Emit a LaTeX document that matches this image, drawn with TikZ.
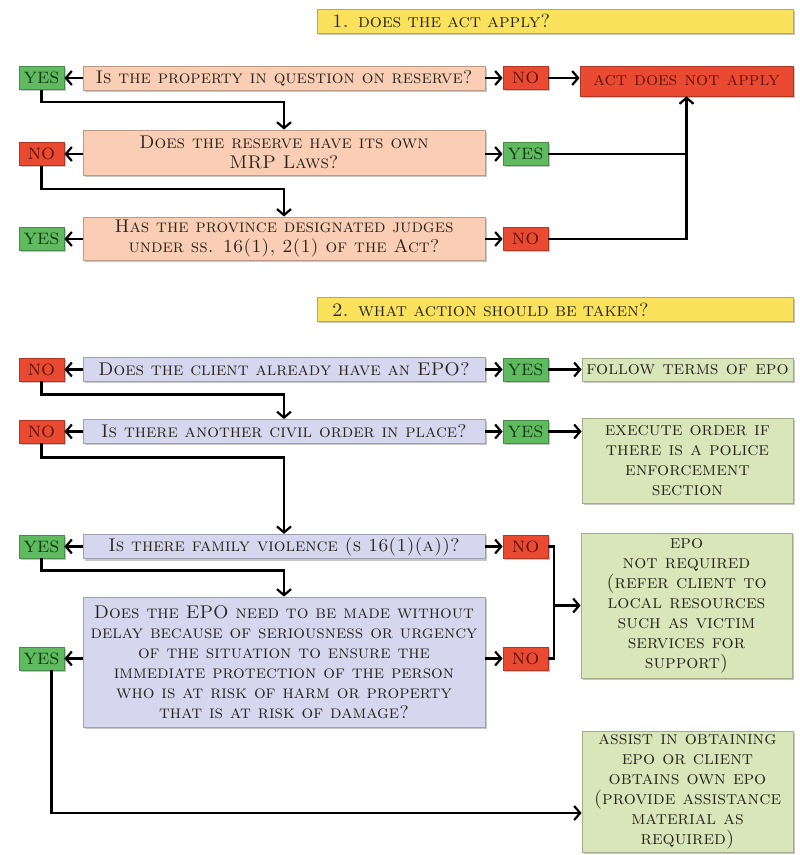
\documentclass[tikz,border=0pt]{standalone}
\usepackage{tikz}
\usetikzlibrary{arrows.meta, shadows}

\definecolor{peach}{RGB}{250,206,180}
\definecolor{lavender}{RGB}{214,214,238}
\definecolor{pale}{RGB}{216,230,186}
\definecolor{yesgreen}{RGB}{96,186,96}
\definecolor{nored}{RGB}{234,74,50}
\definecolor{headyellow}{RGB}{250,226,92}
\definecolor{ink}{RGB}{40,37,28}
\definecolor{yesink}{RGB}{20,60,20}
\definecolor{noink}{RGB}{95,20,10}

\begin{document}
\begin{tikzpicture}[x=0.5pt, y=-0.5pt, font=\fontsize{9.2}{10}\selectfont\scshape, text=ink,
    box/.style={draw=#1!75!black, fill=#1, line width=0.4pt, align=center, inner sep=1.5pt,
        drop shadow={shadow xshift=0.9pt, shadow yshift=-0.9pt, opacity=0.45}},
    head/.style={box=headyellow, text width=223pt, align=left, inner xsep=7.5pt, minimum height=12pt,
        font=\fontsize{9.5}{10}\selectfont\scshape},
    qpeach/.style={box=peach, minimum width=201pt},
    qlav/.style={box=lavender, minimum width=201pt},
    yesbox/.style={box=yesgreen, text=yesink, minimum width=22.5pt, minimum height=11.5pt,
        font=\fontsize{11}{11}\selectfont\scshape},
    nobox/.style={box=nored, text=noink, minimum width=22.5pt, minimum height=11.5pt,
        font=\fontsize{11}{11}\selectfont\scshape},
    endbox/.style={box=pale, minimum width=105.5pt, font=\fontsize{9.5}{10}\selectfont\scshape},
    arr/.style={-{Straight Barb[length=3pt, width=7pt]}, line width=1.1pt},
    ln/.style={line width=1.1pt}]
\useasboundingbox (0,0) rectangle (799,855);

% 1. does the act apply?
\node[head] (head1) at (555,21) {1. does the act apply?};
\node[qpeach, minimum height=12pt] (q1) at (284,78) {Is the property in question on reserve?};
\node[yesbox] (yes1) at (41.5,78) {yes};
\node[nobox] (no1) at (525.5,78) {no};
\node[box=nored, text=noink, minimum width=106.5pt, minimum height=15pt,
    font=\fontsize{9.5}{10}\selectfont\scshape] (act) at (686.5,81) {act does not apply};

\node[qpeach, minimum height=22.5pt] (q2) at (284,152.5) {Does the reserve have its own\\MRP Laws?};
\node[nobox] (no2) at (41.5,154) {no};
\node[yesbox] (yes2) at (525.5,154) {yes};

\node[qpeach, minimum height=21.5pt] (q3) at (284,238.5) {Has the province designated judges\\under ss. 16(1), 2(1) of the Act?};
\node[yesbox] (yes3) at (41.5,239) {yes};
\node[nobox] (no3) at (525.5,239) {no};

\draw[arr] (q1.west) -- (yes1.east);
\draw[arr] (q1.east) -- (no1.west);
\draw[arr] (no1.east) -- (no1.east -| act.west);
\draw[arr] (yes1.south) -- ++(0,12) -| (q2.north);
\draw[arr] (q2.west |- no2) -- (no2.east);
\draw[arr] (q2.east |- yes2) -- (yes2.west);
\draw[ln] (yes2.east) -- (yes2.east -| act.south);
\draw[arr] (no2.south) -- ++(0,23) -| (q3.north);
\draw[arr] (q3.west |- yes3) -- (yes3.east);
\draw[arr] (q3.east |- no3) -- (no3.west);
\draw[arr] (no3.east) -| (act.south);

% 2. what action should be taken?
\node[head] (head2) at (555,309.5) {2. what action should be taken?};
\node[qlav, minimum height=12pt] (q4) at (284,369.5) {Does the client already have an EPO?};
\node[nobox] (no4) at (41.5,369.5) {no};
\node[yesbox] (yes4) at (525.5,369.5) {yes};
\node[endbox, minimum height=11.5pt] (follow) at (687.5,369.5) {follow terms of epo};

\node[qlav, minimum height=12pt] (q5) at (284,431.5) {Is there another civil order in place?};
\node[nobox] (no5) at (41.5,431.5) {no};
\node[yesbox] (yes5) at (525.5,431.5) {yes};
\node[endbox, minimum height=42.5pt] (exec) at (687.5,460.5) {execute order if\\there is a police\\enforcement\\section};

\node[qlav, minimum height=12pt] (q6) at (284,546.5) {Is there family violence (s 16(1)(a))?};
\node[yesbox] (yes6) at (41.5,546.5) {yes};
\node[nobox] (no6) at (525.5,546.5) {no};
\node[endbox, minimum height=72.5pt] (epo) at (686.5,605.5) {epo\\not required\\(refer client to\\local resources\\such as victim\\services for\\support)};

\node[qlav, minimum height=65pt] (q7) at (284,662) {Does the EPO need to be made without\\delay because of seriousness or urgency\\of the situation to ensure the\\immediate protection of the person\\who is at risk of harm or property\\that is at risk of damage?};
\node[yesbox] (yes7) at (41.5,658.5) {yes};
\node[nobox] (no7) at (525.5,658.5) {no};
\node[endbox, minimum height=60pt] (assist) at (687.5,792) {assist in obtaining\\epo or client\\obtains own epo\\(provide assistance\\material as\\required)};
\coordinate (join) at (554,605.5);

\draw[arr] (q4.west) -- (no4.east);
\draw[arr] (q4.east) -- (yes4.west);
\draw[arr] (yes4.east) -- (follow.west);
\draw[arr] (no4.south) -- ++(0,13) -| (q5.north);
\draw[arr] (q5.west) -- (no5.east);
\draw[arr] (q5.east) -- (yes5.west);
\draw[arr] (yes5.east) -- (yes5.east -| exec.west);
\draw[arr] (no5.south) -- ++(0,14) -| (q6.north);
\draw[arr] (q6.west) -- (yes6.east);
\draw[arr] (q6.east) -- (no6.west);
\draw[arr] (yes6.south) -- ++(0,12) -| (q7.north);
\draw[arr] (q7.west |- yes7) -- (yes7.east);
\draw[arr] (q7.east |- no7) -- (no7.west);
\draw[ln] (no6.east) -| (join) |- (no7.east);
\draw[arr] (join) -- (epo.west);
\draw[arr] ([xshift=5pt]yes7.south) |- ([yshift=-10.5pt]assist.west);
\end{tikzpicture}
\end{document}
